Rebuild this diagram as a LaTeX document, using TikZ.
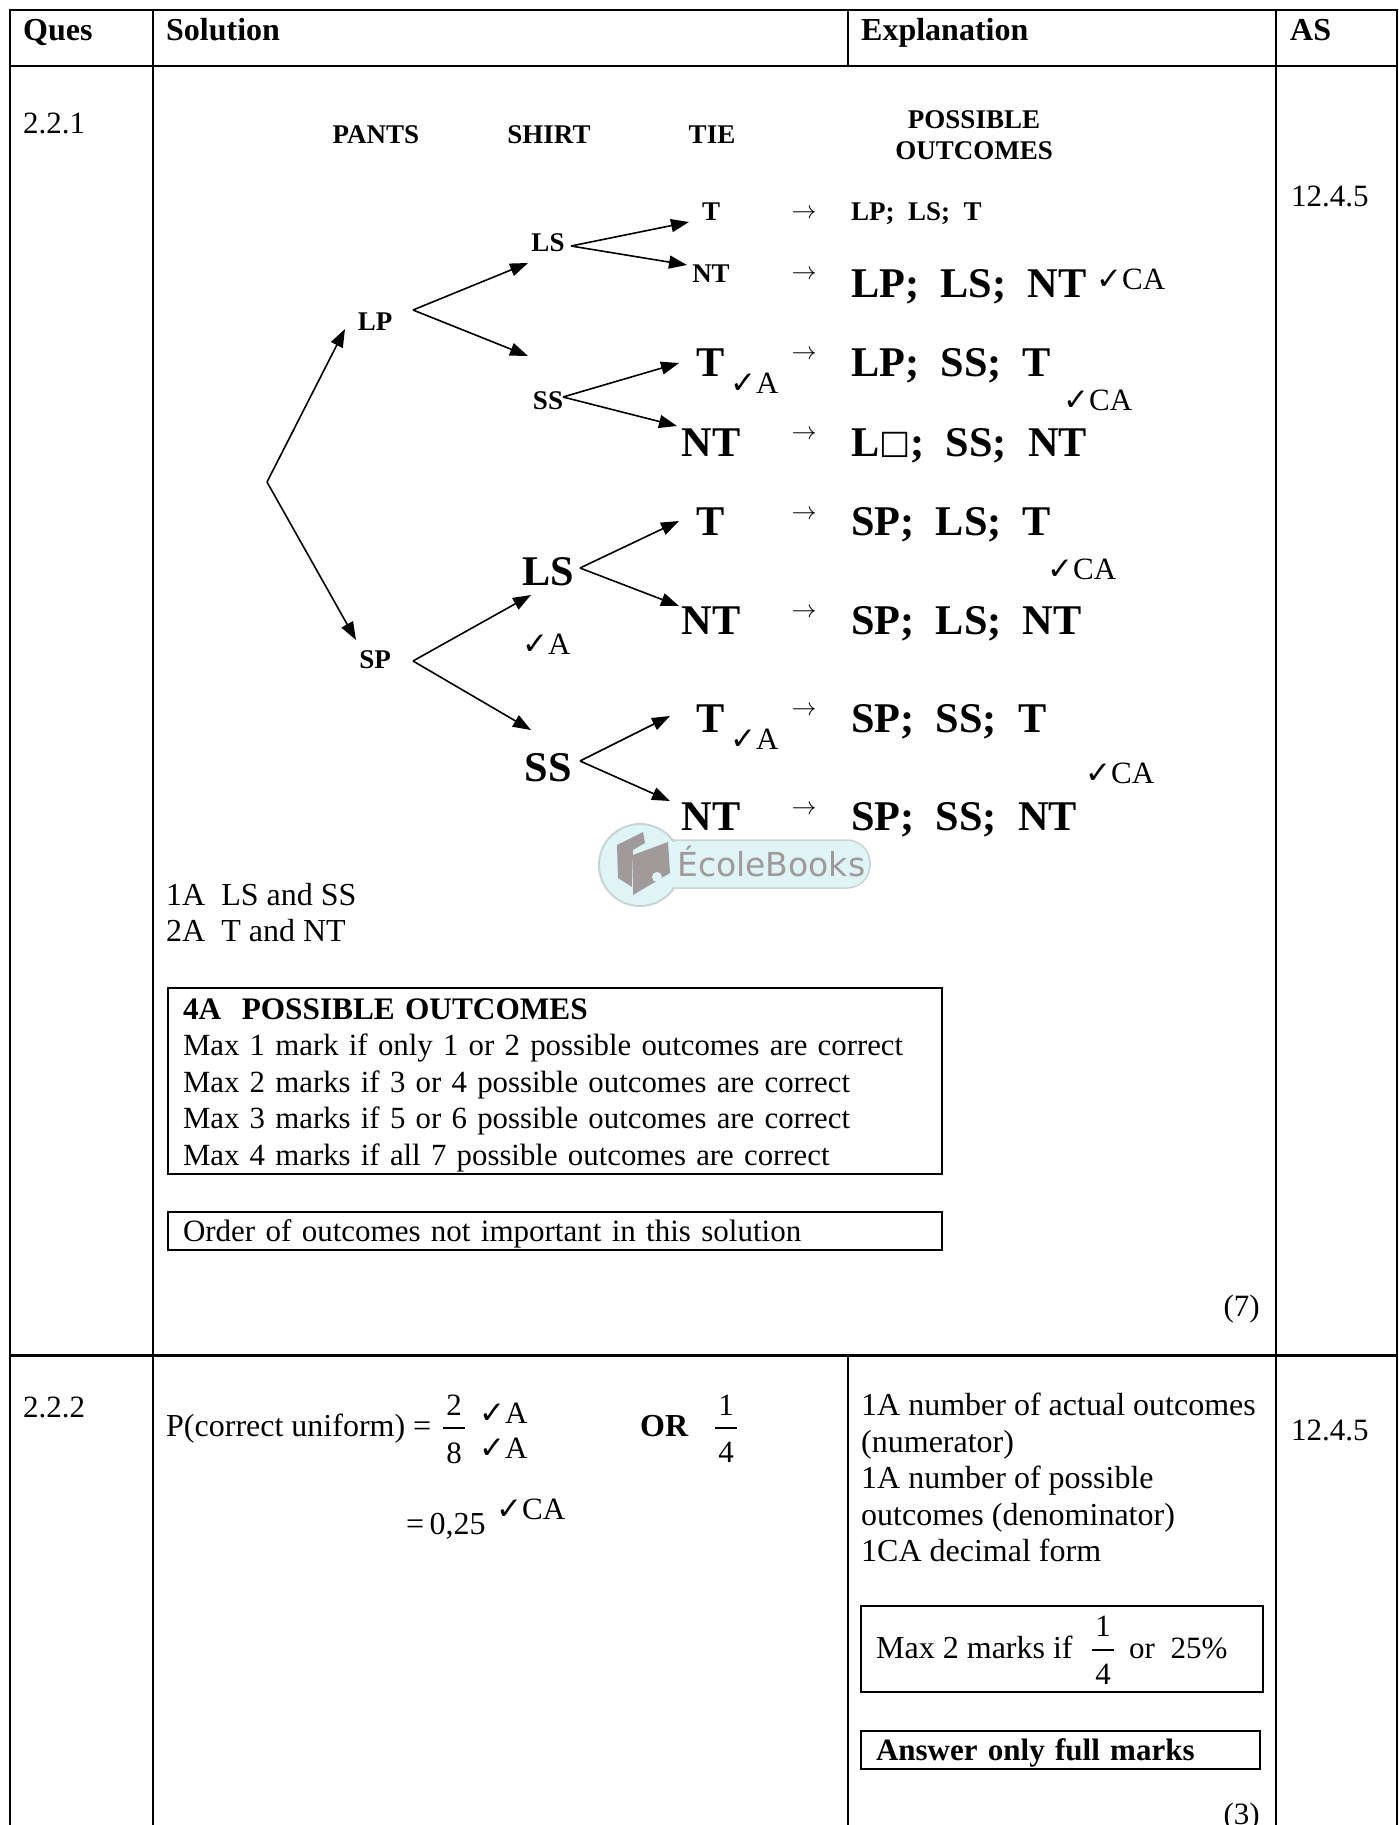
\documentclass[tikz,border=0pt]{standalone}
\usepackage{fontspec}
\setmainfont{Liberation Serif}
\newfontfamily\dejavu{DejaVu Sans}
\usetikzlibrary{arrows.meta}
\definecolor{logocyan}{RGB}{222,244,245}
\definecolor{logoedge}{RGB}{200,212,212}
\definecolor{logogray}{RGB}{160,154,154}
\newcommand{\tick}{{\dejavu\fontsize{31}{31}\selectfont ✓}}
\tikzset{
  txt/.style={inner sep=0pt,anchor=west,font=\fontsize{31}{36}\selectfont,text height=21pt,text depth=0pt},
  wide/.style={txt,font=\fontsize{32}{36}\selectfont},
  head/.style={txt,font=\fontsize{32}{36}\selectfont\bfseries},
  small/.style={inner sep=0pt,font=\fontsize{27}{30}\selectfont\bfseries,text height=19pt,text depth=0pt},
  big/.style={inner sep=0pt,font=\fontsize{42.3}{46}\selectfont\bfseries,text height=28pt,text depth=0pt},
  arr/.style={inner sep=0pt,font=\fontsize{27}{30}\selectfont},
  branch/.style={line width=1.6pt,-{Triangle[length=18pt,width=13pt]}},
  grid/.style={line width=2pt},
  markbox/.style={draw,line width=2pt,inner xsep=15pt,inner ysep=0pt,anchor=north west,align=left,font=\fontsize{31}{36.5}\selectfont},
}
\begin{document}
\begin{tikzpicture}[x=1pt,y=-1pt]
        \useasboundingbox (0,0) rectangle (1399,1825);
        % table
        \draw[grid] (10,1825) -- (10,10) -- (1397,10) -- (1397,1825);
        \draw[grid] (10,66) -- (1397,66);
        \draw[line width=3pt] (10,1355) -- (1397,1355);
        \draw[grid] (153,10) -- (153,1825);
        \draw[grid] (848,10) -- (848,66);
        \draw[grid] (848,1355) -- (848,1825);
        \draw[grid] (1276,10) -- (1276,1825);

        % header row
        \node[head] (hques) at (23,30) {Ques};
        \node[head] (hsol) at (166,30) {Solution};
        \node[head] (hexpl) at (861,30) {Explanation};
        \node[head] (has) at (1290,30) {AS};
        \node[txt] (qone) at (23,123) {2.2.1};
        \node[txt] (asone) at (1291,196) {12.4.5};

        % tree headings
        \node[small] (pants) at (376,134) {PANTS};
        \node[small] (shirt) at (549,134) {SHIRT};
        \node[small] (tie) at (712,134) {TIE};
        \node[small] (poss) at (974,119) {POSSIBLE};
        \node[small] (outc) at (974,150) {OUTCOMES};

        % tree nodes
        \coordinate (root) at (267,482);
        \node[small] (LP) at (375,321) {LP};
        \node[small] (SP) at (375,659) {SP};
        \node[small] (LSa) at (548,242) {LS};
        \node[small] (SSa) at (548,400) {SS};
        \node[big] (LSb) at (548,571) {LS};
        \node[big] (SSb) at (548,767) {SS};
        \node[small] (Ta) at (711,211) {T};
        \node[small] (NTa) at (711,273) {NT};
        \node[big] (Tb) at (711,362) {T};
        \node[big] (NTb) at (711,442) {NT};
        \node[big] (Tc) at (711,521) {T};
        \node[big] (NTc) at (711,620) {NT};
        \node[big] (Td) at (711,718) {T};
        \node[big] (NTd) at (711,816) {NT};

        % branches
        \draw[branch] (root) -- ([shift={(-30,8)}]LP.center);
        \draw[branch] (root) -- ([shift={(-19,-19)}]SP.center);
        \draw[branch] ([shift={(38,-11)}]LP.center) -- ([shift={(-20,21)}]LSa.center);
        \draw[branch] ([shift={(38,-11)}]LP.center) -- ([shift={(-20,-44)}]SSa.center);
        \draw[branch] ([shift={(38,2)}]SP.center) -- ([shift={(-17,24)}]LSb.center);
        \draw[branch] ([shift={(38,2)}]SP.center) -- ([shift={(-17,-37)}]SSb.center);
        \draw[branch] ([shift={(23,4)}]LSa.center) -- ([shift={(-22,11)}]Ta.center);
        \draw[branch] ([shift={(23,4)}]LSa.center) -- ([shift={(-24,-8)}]NTa.center);
        \draw[branch] ([shift={(15,-3)}]SSa.center) -- ([shift={(-32,1)}]Tb.center);
        \draw[branch] ([shift={(15,-3)}]SSa.center) -- ([shift={(-34,-16)}]NTb.center);
        \draw[branch] ([shift={(32,-3)}]LSb.center) -- ([shift={(-32,0)}]Tc.center);
        \draw[branch] ([shift={(32,-3)}]LSb.center) -- ([shift={(-32,-14)}]NTc.center);
        \draw[branch] ([shift={(32,-6)}]SSb.center) -- ([shift={(-41,-2)}]Td.center);
        \draw[branch] ([shift={(32,-6)}]SSb.center) -- ([shift={(-41,-15)}]NTd.center);

        % arrows to outcomes
        \node[arr] (arra) at (804,214) {$\rightarrow$};
        \node[arr] (arrb) at (804,275) {$\rightarrow$};
        \node[arr] (arrc) at (804,355) {$\rightarrow$};
        \node[arr] (arrd) at (804,435) {$\rightarrow$};
        \node[arr] (arre) at (804,515) {$\rightarrow$};
        \node[arr] (arrf) at (804,613) {$\rightarrow$};
        \node[arr] (arrg) at (804,711) {$\rightarrow$};
        \node[arr] (arrh) at (804,810) {$\rightarrow$};

        % outcomes
        \node[small,anchor=west] (outa) at (851,211) {LP;\ \ LS;\ \ T};
        \node[big,anchor=west] (outb) at (851,283) {LP;\ \ LS;\ \ NT};
        \node[big,anchor=west] (outc) at (851,362) {LP;\ \ SS;\ \ T};
        \node[big,anchor=west] (outd) at (851,442) {L{\dejavu\mdseries\fontsize{33}{33}\selectfont\raisebox{3pt}{□}};\ \ SS;\ \ NT};
        \node[big,anchor=west] (oute) at (851,521) {SP;\ \ LS;\ \ T};
        \node[big,anchor=west] (outf) at (851,620) {SP;\ \ LS;\ \ NT};
        \node[big,anchor=west] (outg) at (851,718) {SP;\ \ SS;\ \ T};
        \node[big,anchor=west] (outh) at (851,816) {SP;\ \ SS;\ \ NT};

        % ticks
        \node[txt] (cka) at (1096,279) {\tick CA};
        \node[txt] (ckb) at (1063,400) {\tick CA};
        \node[txt] (ckc) at (1047,569) {\tick CA};
        \node[txt] (ckd) at (1085,773) {\tick CA};
        \node[txt] (cke) at (730,383) {\tick A};
        \node[txt] (ckf) at (522,644) {\tick A};
        \node[txt] (ckg) at (730,739) {\tick A};

        % logo
        \fill[logocyan,draw=logoedge,line width=1.5pt,rounded corners=23pt] (650,840) rectangle (870,888);
        \fill[logocyan,draw=logoedge,line width=2pt] (640,865) circle (41);
        \fill[logocyan] (660,842) rectangle (690,887);
        \node[inner sep=0pt,font=\dejavu\fontsize{33}{33}\selectfont,text=logogray,anchor=west] (logo) at (677,861) {ÉcoleBooks};
        \fill[logogray] (617,845) -- (643,832) -- (645,843) -- (633,850) -- (632,887) -- (618,878) -- cycle;
        \fill[logogray] (633,855) -- (668,842) -- (670,873) -- (633,895) -- cycle;
        \fill[logocyan] (657,877) circle (5);

        % marking notes
        \node[wide] (noteone) at (166,895) {1A\ \ LS and SS};
        \node[wide] (notetwo) at (166,931) {2A\ \ T and NT};
        \node[markbox,text width=744pt,minimum height=186pt,font=\fontsize{30.8}{36.5}\selectfont] (boxa) at (167,987) {\rule{0pt}{29pt}\textbf{\fontsize{31.3}{36.5}\selectfont 4A\ \ POSSIBLE OUTCOMES}\\
          Max 1 mark if only 1 or 2 possible outcomes are correct\\
          Max 2 marks if 3 or 4 possible outcomes are correct\\
          Max 3 marks if 5 or 6 possible outcomes are correct\\
          Max 4 marks if all 7 possible outcomes are correct};
        \node[markbox,text width=744pt,minimum height=38pt] (boxb) at (167,1211) {\rule{0pt}{27pt}Order of outcomes not important in this solution};
        \node[txt,anchor=east] (marka) at (1260,1306) {(7)};

        % question 2.2.2
        \node[txt] (qtwo) at (23,1407) {2.2.2};
        \node[txt] (astwo) at (1291,1430) {12.4.5};
        \node[wide] (prob) at (166,1426) {P(correct uniform) =};
        \node[txt,anchor=center] (numa) at (454,1405) {2};
        \node[txt,anchor=center] (dena) at (454,1453) {8};
        \draw[line width=1.3pt] (443,1428) -- (465,1428);
        \node[txt] (ckh) at (479,1413) {\tick A};
        \node[txt] (cki) at (479,1448) {\tick A};
        \node[head] (ornode) at (640,1426) {OR};
        \node[txt,anchor=center] (numb) at (726,1405) {1};
        \node[txt,anchor=center] (denb) at (726,1452) {4};
        \draw[line width=1.3pt] (715,1428) -- (737,1428);
        \node[wide] (ans) at (406,1524) {=\,0,25};
        \node[txt] (ckj) at (496,1509) {\tick CA};

        % explanation of 2.2.2
        \node[inner sep=0pt,align=left,anchor=north west,font=\fontsize{32}{36.5}\selectfont] (expl) at (861,1393) {1A number of actual outcomes\\(numerator)\\1A number of possible\\outcomes (denominator)\\1CA decimal form};
        \draw[grid] (861,1606) rectangle (1263,1692);
        \node[wide] (maxtext) at (876,1648) {Max 2 marks if};
        \node[txt,anchor=center] (numc) at (1103,1626) {1};
        \node[txt,anchor=center] (denc) at (1103,1674) {4};
        \draw[line width=1.3pt] (1092,1650) -- (1114,1650);
        \node[txt] (ortext) at (1129,1648) {or\ \ 25\%};
        \node[markbox,text width=369pt,minimum height=38pt,font=\fontsize{31}{36.5}\selectfont\bfseries] (boxc) at (860,1730) {\rule{0pt}{27pt}Answer only full marks};
        \node[txt,anchor=east] (markb) at (1260,1814) {(3)};
    \end{tikzpicture}
\end{document}
